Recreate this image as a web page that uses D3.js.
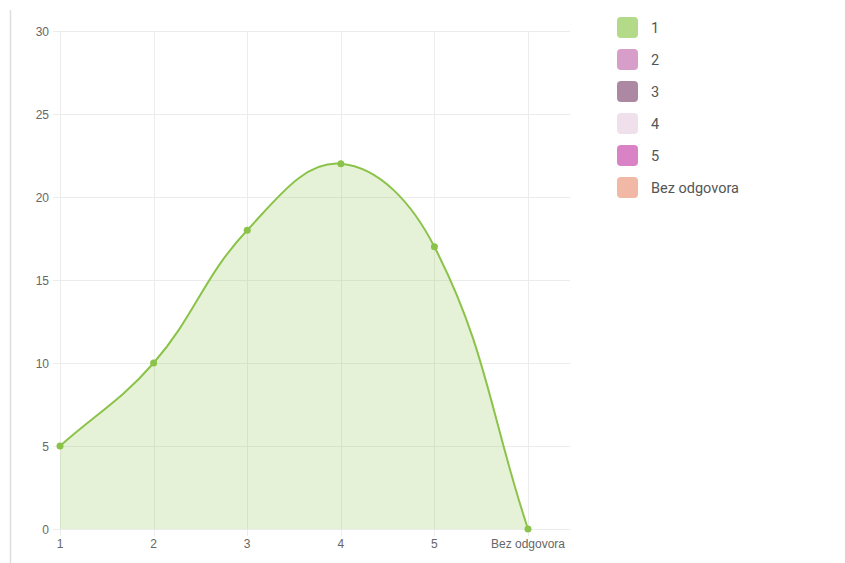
<!DOCTYPE html>
<html><head><meta charset="utf-8">
<script src="https://cdn.jsdelivr.net/npm/d3@7"></script>
<style>body{margin:0;background:#fff;font-family:Roboto,"Open Sans",Arial,sans-serif;}</style>
</head><body><svg id="c" width="845" height="563"></svg>
<script>
const categories = ["1","2","3","4","5","Bez odgovora"];
const values = [5,10,18,22,17,0];
const yTicks = [0,5,10,15,20,25,30];
const legendLabels = ["1","2","3","4","5","Bez odgovora"];
const legendColors = ["#b3da88","#d69ec9","#ad88a3","#efe0ec","#d983c6","#f2b8a6"];
const lineColor = "#8bc34a";

const svg = d3.select("#c");
svg.append("line").attr("x1",10.5).attr("x2",10.5).attr("y1",10).attr("y2",563).attr("stroke","#ddd").attr("stroke-width",1.5);

const x = d3.scalePoint().domain(categories).range([60,528]);
const y = d3.scaleLinear().domain([0,30]).range([529,31]);

const g = svg.append("g");
g.selectAll(".hg").data(yTicks).join("line")
 .attr("x1",53).attr("x2",570).attr("y1",d=>Math.round(y(d))+0.5).attr("y2",d=>Math.round(y(d))+0.5)
 .attr("stroke","#ececec").attr("stroke-width",1);
g.selectAll(".vg").data(categories).join("line")
 .attr("x1",d=>Math.round(x(d))+0.5).attr("x2",d=>Math.round(x(d))+0.5).attr("y1",31).attr("y2",536)
 .attr("stroke","#ececec").attr("stroke-width",1);

const axisFont = '"Liberation Sans",Arial,sans-serif';
g.selectAll(".yl").data(yTicks).join("text")
 .attr("x",49).attr("y",d=>y(d)+4.5).attr("text-anchor","end").attr("font-family",axisFont)
 .attr("font-size",12).attr("fill","#666").text(d=>d);
g.selectAll(".xl").data(categories).join("text")
 .attr("x",d=>x(d)).attr("y",547.5).attr("text-anchor","middle").attr("font-family",axisFont)
 .attr("font-size",12).attr("fill","#666").text(d=>d);

const pts = values.map((v,i)=>({x:x(categories[i]),y:y(v)}));
const t = 0.4;
const cps = pts.map((p,i)=>{
  const prev = pts[i-1]||p, next = pts[i+1]||p;
  const d01 = Math.hypot(p.x-prev.x,p.y-prev.y), d12 = Math.hypot(next.x-p.x,next.y-p.y);
  let s01 = d01/(d01+d12), s12 = d12/(d01+d12);
  if(isNaN(s01)) s01=0; if(isNaN(s12)) s12=0;
  const fa=t*s01, fb=t*s12;
  return {px:p.x-fa*(next.x-prev.x), py:p.y-fa*(next.y-prev.y), nx:p.x+fb*(next.x-prev.x), ny:p.y+fb*(next.y-prev.y)};
});
function linePath(p){
  p.moveTo(pts[0].x,pts[0].y);
  for(let i=1;i<pts.length;i++){
    const a=cps[i-1], b=cps[i];
    p.bezierCurveTo(a.nx,Math.min(a.ny,529),b.px,Math.min(b.py,529),pts[i].x,pts[i].y);
  }
  return p;
}
const area = linePath(d3.path());
area.lineTo(pts[pts.length-1].x,y(0)); area.lineTo(pts[0].x,y(0)); area.closePath();
g.append("path").attr("d",area.toString()).attr("fill","rgba(139,195,74,0.22)");
g.append("path").attr("d",linePath(d3.path()).toString()).attr("fill","none").attr("stroke",lineColor).attr("stroke-width",2);
g.selectAll(".pt").data(values).join("circle")
 .attr("cx",(d,i)=>x(categories[i])).attr("cy",d=>y(d)).attr("r",3.5).attr("fill",lineColor);

const lg = svg.append("g");
legendLabels.forEach((l,i)=>{
  const cy = 27.5 + i*32;
  lg.append("rect").attr("x",617).attr("y",cy-10.5).attr("width",21).attr("height",21).attr("rx",4).attr("fill",legendColors[i]);
  lg.append("text").attr("x",651).attr("y",cy+5).attr("font-size",14.5).attr("fill","#555").text(l);
});
</script></body></html>
